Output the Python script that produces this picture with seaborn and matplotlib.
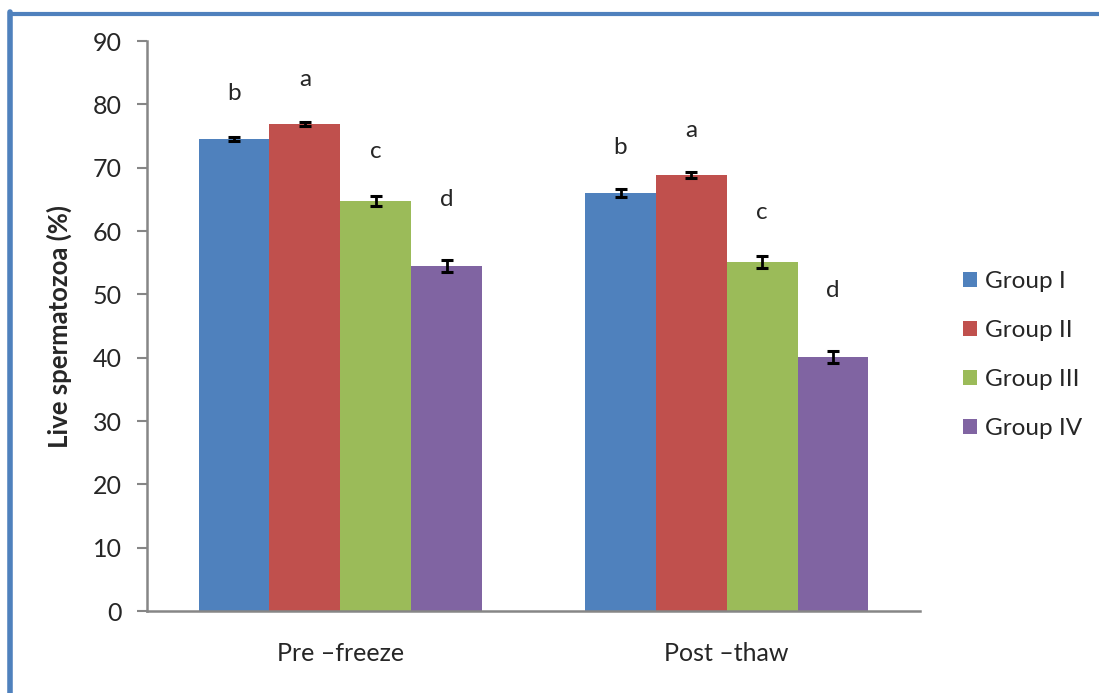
import pandas as pd
import seaborn as sns
import matplotlib
matplotlib.use("Agg")
from matplotlib import pyplot as plt
from matplotlib.lines import Line2D

# values
stages = ["Pre \u2013freeze", "Post \u2013thaw"]
groups = ["Group I", "Group II", "Group III", "Group IV"]
live_pre = [74.5, 76.9, 64.7, 54.5]
live_post = [66.0, 68.8, 55.1, 40.1]
err_pre = [0.3, 0.3, 0.8, 1.0]
err_post = [0.7, 0.5, 1.0, 1.0]
letters_pre = ["b", "a", "c", "d"]
letters_post = ["b", "a", "c", "d"]

colors = ["#4F81BD", "#C0504D", "#9BBB59", "#8064A2"]
letter_pad = [7.2, 7.0, 7.8, 10.5]

rows = []
for stage, vals, errs, lets in [(stages[0], live_pre, err_pre, letters_pre),
                                (stages[1], live_post, err_post, letters_post)]:
    for g, v, e, l in zip(groups, vals, errs, lets):
        rows.append({"stage": stage, "group": g, "live": v, "err": e, "letter": l})
df = pd.DataFrame(rows)

sns.set_style("white")
plt.rcParams["font.family"] = ["Lato", "DejaVu Sans"]

fig = plt.figure(figsize=(10.99, 6.93), dpi=100)
ax = fig.add_axes([0.1338, 0.1183, 0.8371 - 0.1338, 0.9408 - 0.1183])

sns.barplot(data=df, x="stage", y="live", hue="group", order=stages,
            hue_order=groups, palette=colors, width=0.733, errorbar=None,
            linewidth=0, saturation=1, ax=ax)

# error bars and significance letters on top of each bar
bars = ax.patches[:len(df)]
for i, g in enumerate(groups):
    for j, st in enumerate(stages):
        bar = bars[i * len(stages) + j]
        row = df[(df.group == g) & (df.stage == st)].iloc[0]
        cx = bar.get_x() + bar.get_width() / 2
        ax.errorbar(cx, row.live, yerr=row.err, fmt="none", ecolor="black",
                    elinewidth=2, capsize=4.5, capthick=2.2)
        ax.text(cx, row.live + letter_pad[i], row.letter, ha="center",
                va="center", fontsize=17.5)

ax.set_ylim(0, 90)
ax.set_yticks(range(0, 91, 10))
ax.set_xlim(-0.5, 1.5)
ax.set_xticks([-0.5, 0.5, 1.5], minor=True)
ax.tick_params(axis="x", which="major", length=0, pad=22, labelsize=18)
ax.tick_params(axis="x", which="minor", length=7, width=1.5, color="#868686",
               direction="out")
ax.tick_params(axis="y", length=7, width=1.5, color="#868686", direction="out",
               pad=11, labelsize=18, left=True)
ax.set_xlabel("")
ax.set_ylabel("Live spermatozoa (%)", fontsize=18.5, fontweight="bold", labelpad=15)

for s in ["top", "right"]:
    ax.spines[s].set_visible(False)
for s in ["left", "bottom"]:
    ax.spines[s].set_color("#868686")
    ax.spines[s].set_linewidth(1.8)

handles, labels = ax.get_legend_handles_labels()
ax.legend(handles, labels, loc="center left", bbox_to_anchor=(1.027, 0.449),
          frameon=False, fontsize=17.5, handlelength=0.6, handleheight=0.6,
          handletextpad=0.3, labelspacing=1.15)

# blue frame (only top and left edges are visible in the reference)
fig.add_artist(Line2D([9.5 / 1099, 1.0], [1 - 13.5 / 693] * 2, color="#4F81BD",
                      linewidth=3, transform=fig.transFigure))
fig.add_artist(Line2D([9.5 / 1099] * 2, [0.0, 1 - 12 / 693], color="#4F81BD",
                      linewidth=4, transform=fig.transFigure))

plt.savefig("out.png", dpi=100)
